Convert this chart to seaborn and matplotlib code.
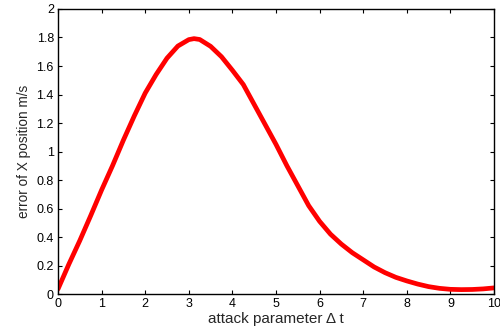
import matplotlib
matplotlib.use("Agg")
import matplotlib.pyplot as plt
import pandas as pd
import seaborn as sns

# valeurs
delta_t = [0, 0.25, 0.5, 0.75, 1, 1.25, 1.5, 1.75, 2, 2.25, 2.5, 2.75, 3,
           3.12, 3.25, 3.5, 3.75, 4, 4.25, 4.5, 4.75, 5, 5.25, 5.5, 5.75, 6,
           6.25, 6.5, 6.75, 7, 7.25, 7.5, 7.75, 8, 8.25, 8.5, 8.75, 9, 9.25,
           9.5, 9.75, 10]
erreur_x = [0.035, 0.21, 0.375, 0.55, 0.73, 0.90, 1.08, 1.25, 1.41, 1.54,
            1.655, 1.74, 1.785, 1.792, 1.786, 1.738, 1.665, 1.57, 1.47, 1.33,
            1.19, 1.05, 0.90, 0.76, 0.62, 0.51, 0.42, 0.35, 0.29, 0.24, 0.19,
            0.15, 0.117, 0.092, 0.07, 0.052, 0.04, 0.033, 0.031, 0.032,
            0.036, 0.043]
x_ticks = list(range(0, 11))
y_ticks = [0, 0.2, 0.4, 0.6, 0.8, 1, 1.2, 1.4, 1.6, 1.8, 2]
y_labels = ["0", "0.2", "0.4", "0.6", "0.8", "1", "1.2", "1.4", "1.6",
            "1.8", "2"]

sns.set_style("ticks")
plt.rcParams["font.family"] = ["Liberation Sans", "DejaVu Sans"]

df = pd.DataFrame({"dt": delta_t, "err": erreur_x})

fig = plt.figure(figsize=(5, 3.33), dpi=100)
ax = fig.add_axes([0.116, 0.117, 0.872, 0.856])
sns.lineplot(data=df, x="dt", y="err", color="red", linewidth=3.4, ax=ax)

ax.set_xlim(0, 10); ax.set_ylim(0, 2)
ax.set_xticks(x_ticks); ax.set_yticks(y_ticks)
ax.set_xticklabels([str(t) for t in x_ticks])
ax.set_yticklabels(y_labels)
ax.tick_params(direction="in", top=True, right=True, length=3, width=0.8,
               labelsize=9, pad=3, colors="black")
for s in ax.spines.values():
    s.set_linewidth(1.0); s.set_color("black")
ax.set_xlabel("attack parameter Δ t", fontsize=11, labelpad=1)
ax.set_ylabel("error of X position m/s", fontsize=9.8, labelpad=4)

fig.savefig("out.png", dpi=100)
plt.close(fig)
